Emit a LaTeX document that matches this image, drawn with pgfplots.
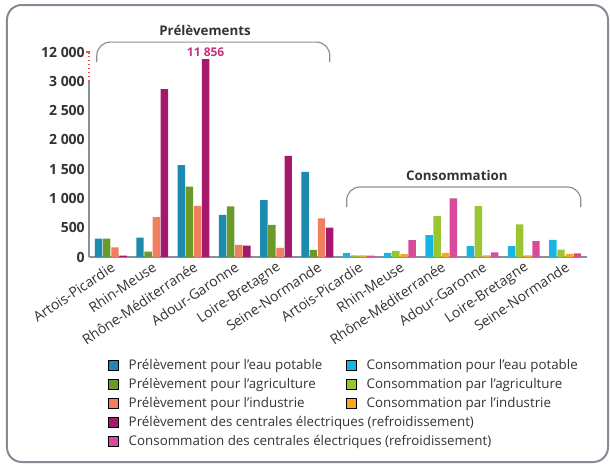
\documentclass[border=0pt]{standalone}
\usepackage{pgfplots}
\pgfplotsset{compat=1.18}
\usepackage{fontspec}
\setmainfont{Open Sans}

\definecolor{pE}{HTML}{1C8BAD}
\definecolor{pA}{HTML}{6B9A2B}
\definecolor{pI}{HTML}{F07F5E}
\definecolor{pC}{HTML}{A3196B}
\definecolor{cE}{HTML}{17B5E2}
\definecolor{cA}{HTML}{9BC531}
\definecolor{cI}{HTML}{F6A724}
\definecolor{cC}{HTML}{D94A9B}
\definecolor{frame}{HTML}{858B97}
\definecolor{axgray}{HTML}{8A8F99}
\definecolor{txt}{HTML}{333333}
\definecolor{breakred}{HTML}{F0504A}
\definecolor{peak}{HTML}{C2307E}

\begin{document}
\begin{tikzpicture}[x=1pt,y=1pt]
\useasboundingbox (-66.75,-156) rectangle (390.75,192.75);
\draw[line width=1.5pt, frame, rounded corners=11pt] (-61.5,-153.75) rectangle (389.25,189);

\begin{axis}[
    at={(0,0)}, anchor=south west,
    width=373.5pt, height=153.75pt, scale only axis,
    xmin=-0.53, xmax=11.53,
    ymin=0, ymax=3500,
    axis line style={draw=none},
    clip=false,
    ybar, bar width=0.18,
    major tick length=0pt,
    xtick={0,...,11},
    xticklabels={Artois-Picardie,Rhin-Meuse,Rhône-Méditerranée,Adour-Garonne,Loire-Bretagne,Seine-Normande,
                 Artois-Picardie,Rhin-Meuse,Rhône-Méditerranée,Adour-Garonne,Loire-Bretagne,Seine-Normande},
    xticklabel style={rotate=34, anchor=north east, inner sep=2pt, text=txt,
                      font=\fontsize{10.5}{12}\selectfont},
    ytick={0,500,1000,1500,2000,2500,3000,3500},
    yticklabels={0,500,1 000,1 500,2 000,2 500,3 000,12 000},
    yticklabel style={text=txt, inner sep=3pt, font=\bfseries\fontsize{10.5}{12}\selectfont},
    legend style={at={(0.03,-0.47)}, anchor=north west, draw=none, fill=none,
                  font=\fontsize{10}{12}\selectfont, text=txt,
                  row sep=1.2pt,
                  /tikz/every odd column/.append style={column sep=5.5pt}},
    legend columns=2,
    legend cell align=left,
    legend image code/.code={\fill[#1] (0pt,-3.75pt) rectangle (7.5pt,3.75pt);},
]

% axes: y broken between 3 000 and 12 000
\draw[axgray, line width=0.8pt] (axis cs:-0.53,0) -- (axis cs:-0.53,3000);
\draw[breakred, line width=1pt, dotted] (axis cs:-0.53,3000) -- (axis cs:-0.53,3480);
\draw[breakred, line width=1pt] ([xshift=-2.5pt]axis cs:-0.53,3500) -- ([xshift=0.5pt]axis cs:-0.53,3500);
\draw[axgray, line width=0.8pt] (axis cs:-0.53,0) -- (axis cs:11.53,0);

% Prélèvements
\addplot[forget plot, fill=pE, draw=none, bar shift=-0.295] coordinates {(0,315) (1,332) (2,1567) (3,721) (4,972) (5,1453)};
\addplot[forget plot, fill=pA, draw=none, bar shift=-0.1]   coordinates {(0,315) (1,92) (2,1201) (3,864) (4,549) (5,120)};
\addplot[forget plot, fill=pI, draw=none, bar shift=0.1]    coordinates {(0,166) (1,681) (2,875) (3,206) (4,154) (5,658)};
% Rhône-Méditerranée: 11 856, drawn cut at the break
\addplot[forget plot, fill=pC, draw=none, bar shift=0.295]  coordinates {(0,23) (1,2866) (2,3380) (3,194) (4,1727) (5,503)};

% Consommation
\addplot[forget plot, fill=cE, draw=none, bar shift=-0.295] coordinates {(6,65) (7,71) (8,373) (9,185) (10,185) (11,293)};
\addplot[forget plot, fill=cA, draw=none, bar shift=-0.1]   coordinates {(6,28) (7,105) (8,697) (9,868) (10,555) (11,128)};
\addplot[forget plot, fill=cI, draw=none, bar shift=0.1]    coordinates {(6,28) (7,48) (8,71) (9,26) (10,26) (11,54)};
\addplot[forget plot, fill=cC, draw=none, bar shift=0.295]  coordinates {(6,22) (7,287) (8,999) (9,77) (10,270) (11,60)};

\node[anchor=south, inner sep=1.5pt, text=peak, font=\bfseries\fontsize{9}{10}\selectfont] at (axis cs:2.295,3380) {11 856};

% group brackets
\draw[axgray, line width=0.9pt, rounded corners=10pt] (axis cs:-0.34,3328) -- (axis cs:-0.34,3669) -- (axis cs:5.30,3669) -- (axis cs:5.30,3328);
\node[text=txt, font=\bfseries\fontsize{10}{12}\selectfont] at (axis cs:2.28,3874) {Prélèvements};
\draw[axgray, line width=0.9pt, rounded corners=10pt] (axis cs:5.71,853) -- (axis cs:5.71,1195) -- (axis cs:11.38,1195) -- (axis cs:11.38,853);
\node[text=txt, font=\bfseries\fontsize{10}{12}\selectfont] at (axis cs:8.38,1399) {Consommation};

% legend
\addlegendimage{fill=pE}\addlegendentry{\makebox[161pt][l]{Prélèvement pour l'eau potable}}
\addlegendimage{fill=cE}\addlegendentry{Consommation pour l'eau potable}
\addlegendimage{fill=pA}\addlegendentry{Prélèvement pour l'agriculture}
\addlegendimage{fill=cA}\addlegendentry{Consommation par l'agriculture}
\addlegendimage{fill=pI}\addlegendentry{Prélèvement pour l'industrie}
\addlegendimage{fill=cI}\addlegendentry{Consommation par l'industrie}
\addlegendimage{fill=pC}\addlegendentry{\rlap{Prélèvement des centrales électriques (refroidissement)}}
\addlegendimage{empty legend}\addlegendentry{}
\addlegendimage{fill=cC}\addlegendentry{\rlap{Consommation des centrales électriques (refroidissement)}}
\addlegendimage{empty legend}\addlegendentry{}
\end{axis}
\end{tikzpicture}
\end{document}
